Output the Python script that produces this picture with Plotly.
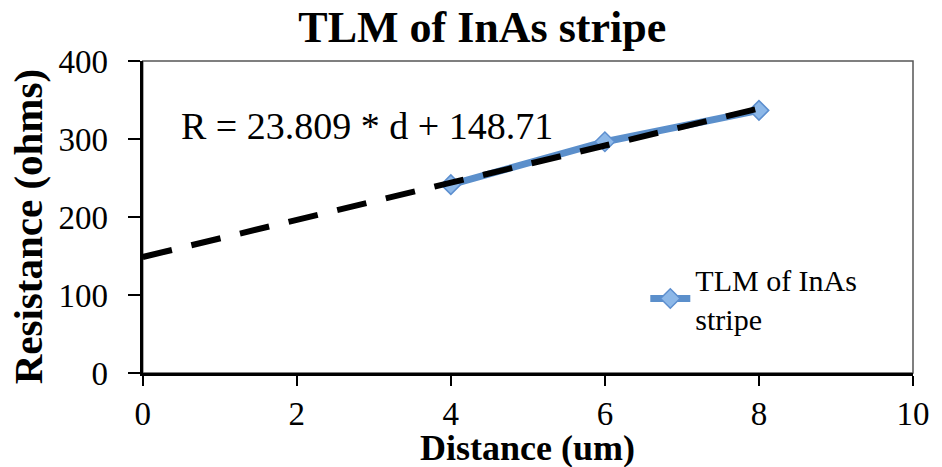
import plotly.graph_objects as go

# Measured resistance vs. contact spacing
distance_um = [4, 6, 8]
resistance_ohm = [241.5, 296.5, 336.7]

# Linear fit coefficients (R = slope * d + intercept)
fit_slope = 23.809
fit_intercept = 148.71
fit_x = [0, 8]

x_ticks = [0, 2, 4, 6, 8, 10]
y_ticks = [0, 100, 200, 300, 400]
y_range = [0, 400]

SERIF = "Liberation Serif, Times New Roman, serif"
BLUE = "#5B8FCB"

W, H = 942, 467
ML, MR, MT, MB = 90, 25, 61, 94
PLOT_LEFT = 143  # pixel where the x axis starts


def px_x(px):
    """Horizontal pixel -> paper fraction."""
    return (px - ML) / (W - ML - MR)


def px_y(py):
    """Vertical pixel -> paper fraction."""
    return (H - MB - py) / (H - MT - MB)


fig = go.Figure()

fig.add_trace(go.Scatter(
    x=distance_um,
    y=resistance_ohm,
    mode="lines+markers",
    name="TLM of InAs<br>stripe",
    line=dict(color=BLUE, width=7),
    marker=dict(symbol="diamond", size=15, color="#8DB8E8",
                line=dict(color="#5D8FCF", width=1.5)),
))

# fit line lives on the overlaying axis (same range) so it sits on top
fig.add_trace(go.Scatter(
    x=fit_x,
    y=[fit_slope * d + fit_intercept for d in fit_x],
    yaxis="y2",
    mode="lines",
    line=dict(color="black", width=6, dash="30px,20px"),
    showlegend=False,
    hoverinfo="skip",
))

fig.update_layout(
    width=W,
    height=H,
    margin=dict(l=ML, r=MR, t=MT, b=MB),
    paper_bgcolor="white",
    plot_bgcolor="white",
    font=dict(family=SERIF, color="black"),
    title=dict(
        text="<b>TLM of InAs stripe</b>",
        font=dict(size=44, family=SERIF, color="black"),
        xref="container", x=0.512, xanchor="center",
        yref="container", y=1 - 27 / H, yanchor="middle",
    ),
    showlegend=True,
    legend=dict(
        x=px_x(648), xanchor="left",
        y=px_y(253), yanchor="top",
        font=dict(size=30, family=SERIF, color="black"),
        bgcolor="rgba(0,0,0,0)",
        itemwidth=40,
    ),
    shapes=[dict(type="rect", xref="x domain", yref="y domain", x0=0, y0=0, x1=1, y1=1,
                 line=dict(color="#555555", width=1.5), layer="below")],
    annotations=[
        dict(text=f"R = {fit_slope} * d + {fit_intercept}",
             xref="paper", yref="paper", x=px_x(179), y=px_y(126),
             xanchor="left", yanchor="middle", showarrow=False,
             font=dict(size=38, family=SERIF, color="black")),
        dict(text="<b>Distance (um)</b>", xref="paper", yref="paper",
             x=px_x(530), y=px_y(448), xanchor="center", yanchor="middle",
             showarrow=False, font=dict(size=36, family=SERIF, color="black")),
        dict(text="<b>Resistance (ohms)</b>", xref="paper", yref="paper",
             x=px_x(28), y=px_y(227), xanchor="center",
             yanchor="middle", textangle=-90, showarrow=False,
             font=dict(size=41, family=SERIF, color="black")),
    ],
)

fig.update_xaxes(
    domain=[px_x(PLOT_LEFT), 1],
    range=[0, 10], tickvals=x_ticks, ticktext=[str(v) for v in x_ticks],
    showgrid=False, zeroline=False,
    showline=True, linecolor="black", linewidth=2.5,
    ticks="outside", ticklen=10, tickwidth=2, tickcolor="black",
    tickfont=dict(size=33, family=SERIF, color="black"),
)
# main value axis: line and tick marks
fig.update_yaxes(
    range=y_range, tickvals=y_ticks,
    showgrid=False, zeroline=False, showticklabels=False,
    showline=True, linecolor="black", linewidth=2.5,
    ticks="outside", ticklen=12, tickwidth=2, tickcolor="black",
)
# companion axis carrying the tick labels, set further out from the plot
fig.update_layout(yaxis2=dict(
    overlaying="y", anchor="free", position=px_x(108), side="left",
    range=y_range, tickvals=y_ticks, ticktext=[str(v) for v in y_ticks],
    showgrid=False, zeroline=False, showline=False, ticks="",
    tickfont=dict(size=33, family=SERIF, color="black"),
))

fig.write_html("out.html")
